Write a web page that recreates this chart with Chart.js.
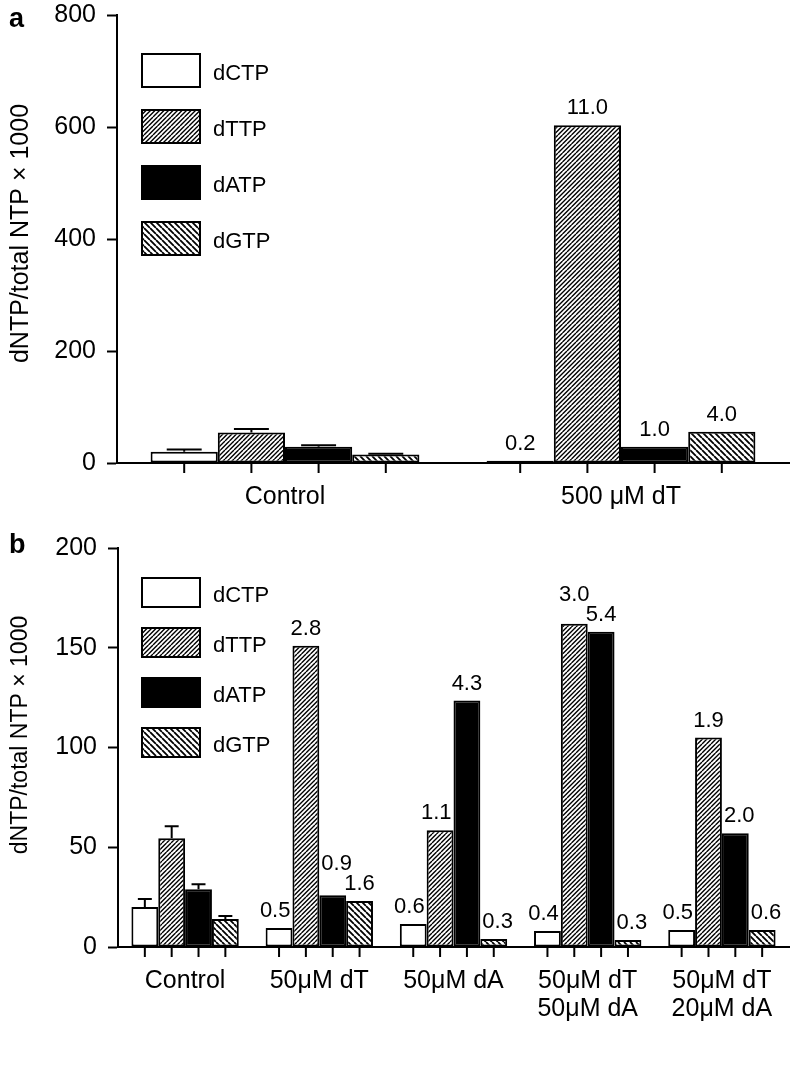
<!DOCTYPE html>
<html>
<head>
<meta charset="utf-8">
<script src="https://cdn.jsdelivr.net/npm/chart.js@4.4.1/dist/chart.umd.min.js"></script>
<style>
  body { margin: 0; background: #fff; }
  #wrap { position: relative; width: 796px; height: 1085px; }
  canvas { position: absolute; left: 0; }
</style>
</head>
<body>
<div id="wrap">
  <canvas id="chartA" width="796" height="510" style="top:0"></canvas>
  <canvas id="chartB" width="796" height="575" style="top:510px"></canvas>
</div>
<script>
  Chart.defaults.font.family = '"Liberation Sans", Arial, Helvetica, sans-serif';
  Chart.defaults.color = '#000';

  const seriesNames = ['dCTP', 'dTTP', 'dATP', 'dGTP'];

  // panel a
  const categoriesA = ['Control', '500 μM dT'];
  const yTicksA = [0, 200, 400, 600, 800];
  const dctpA = [20, 4];
  const dttpA = [54.5, 603];
  const datpA = [29, 29];
  const dgtpA = [15, 56];
  const dctpRatioA = ['', '0.2'];
  const dttpRatioA = ['', '11.0'];
  const datpRatioA = ['', '1.0'];
  const dgtpRatioA = ['', '4.0'];

  // panel b
  const categoriesB = ['Control', '50μM dT', '50μM dA', ['50μM dT', '50μM dA'], ['50μM dT', '20μM dA']];
  const yTicksB = [0, 50, 100, 150, 200];
  const dctpB = [20, 9.5, 11.5, 8, 8.5];
  const dttpB = [54.5, 151, 58.5, 162, 105];
  const datpB = [29, 26, 123.5, 158, 57];
  const dgtpB = [14, 23, 4, 3.5, 8.5];
  const dctpRatioB = ['', '0.5', '0.6', '0.4', '0.5'];
  const dttpRatioB = ['', '2.8', '1.1', '3.0', '1.9'];
  const datpRatioB = ['', '0.9', '4.3', '5.4', '2.0'];
  const dgtpRatioB = ['', '1.6', '0.3', '0.3', '0.6'];

  // upward error on the control bars (dCTP, dTTP, dATP, dGTP)
  const controlErr = [4, 6, 2.5, 1.5];

  function hatch(tile, lines, lw, dir) {
    const c = document.createElement('canvas');
    c.width = tile; c.height = tile;
    const g = c.getContext('2d');
    g.fillStyle = '#fff';
    g.fillRect(0, 0, tile, tile);
    g.strokeStyle = '#000';
    g.lineWidth = lw;
    const s = tile / lines;
    g.beginPath();
    for (let k = -lines - 1; k <= 2 * lines + 1; k++) {
      const c0 = k * s;
      g.moveTo(c0, 0);
      g.lineTo(dir > 0 ? c0 - tile : c0 + tile, tile);
    }
    g.stroke();
    return g.createPattern(c, 'repeat');
  }

  const fills = ['#fff', hatch(9, 2, 1.4, 1), '#000', hatch(6, 1, 1.8, -1)];
  const fontFam = Chart.defaults.font.family;

  const decor = {
    id: 'decor',
    afterDraw(chart, args, o) {
      const ctx = chart.ctx, area = chart.chartArea, ys = chart.scales.y;
      ctx.save();
      ctx.strokeStyle = '#000';
      ctx.lineWidth = 2;

      // a tick under every bar, error bars on control
      chart.data.datasets.forEach((ds, di) => {
        chart.getDatasetMeta(di).data.forEach((bar, i) => {
          ctx.beginPath();
          ctx.moveTo(bar.x, area.bottom);
          ctx.lineTo(bar.x, area.bottom + 10);
          ctx.stroke();
          const e = ds.errors[i];
          if (e) {
            const top = ys.getPixelForValue(ds.data[i] + e);
            const cap = bar.width * 0.26;
            ctx.beginPath();
            ctx.moveTo(bar.x, bar.y);
            ctx.lineTo(bar.x, top);
            ctx.moveTo(bar.x - cap, top);
            ctx.lineTo(bar.x + cap, top);
            ctx.stroke();
          }
        });
      });

      // ratio labels above bars, nudged away from neighbours
      ctx.font = o.labelSize + 'px ' + fontFam;
      const capH = o.labelSize * 0.72;
      const items = [];
      chart.data.datasets.forEach((ds, di) => {
        chart.getDatasetMeta(di).data.forEach((bar, i) => {
          const t = ds.ratios[i];
          if (!t) return;
          items.push({ t, di, i, x: bar.x, y: bar.y - o.labelGap, w: ctx.measureText(t).width });
        });
      });
      items.forEach(it => {
        [-1, 1].forEach(side => {
          const nm = chart.data.datasets[it.di + side] && chart.getDatasetMeta(it.di + side);
          if (!nm) return;
          const nb = nm.data[it.i];
          if (nb.y >= it.y) return;
          if (side < 0) {
            const edge = nb.x + nb.width / 2 + 2;
            if (it.x - it.w / 2 < edge) it.x = edge + it.w / 2;
          } else {
            const edge = nb.x - nb.width / 2 - 2;
            if (it.x + it.w / 2 > edge) it.x = edge - it.w / 2;
          }
        });
      });
      items.sort((a, b) => a.i - b.i || a.di - b.di);
      for (let k = 0; k < items.length - 1; k++) {
        const a = items[k], b = items[k + 1];
        if (a.i !== b.i || b.di !== a.di + 1) continue;
        const hx = Math.abs(a.x - b.x) < (a.w + b.w) / 2 + 2;
        const hy = Math.abs(a.y - b.y) < capH + 3;
        if (hx && hy) {
          if (a.y <= b.y) a.y = b.y - capH - 4; else b.y = a.y - capH - 4;
        }
      }
      ctx.fillStyle = '#000';
      ctx.textAlign = 'center';
      ctx.textBaseline = 'alphabetic';
      items.forEach(it => ctx.fillText(it.t, it.x, it.y));

      // legend
      ctx.font = o.legendSize + 'px ' + fontFam;
      ctx.textAlign = 'left';
      ctx.textBaseline = 'middle';
      chart.data.datasets.forEach((ds, i) => {
        const top = area.top + o.legendTop + i * o.legendStep;
        ctx.fillStyle = ds.backgroundColor;
        ctx.fillRect(o.boxX, top, o.boxW, o.boxH);
        ctx.strokeRect(o.boxX, top, o.boxW, o.boxH);
        ctx.fillStyle = '#000';
        ctx.fillText(ds.label, o.textX, top + o.boxH / 2 + 3);
      });

      // y axis title
      ctx.save();
      ctx.translate(o.titleX, (area.top + area.bottom) / 2 + o.titleShift);
      ctx.rotate(-Math.PI / 2);
      ctx.font = o.titleSize + 'px ' + fontFam;
      ctx.textAlign = 'center';
      ctx.textBaseline = 'middle';
      ctx.fillText(o.title, 0, 0);
      ctx.restore();

      // panel letter
      ctx.font = 'bold ' + o.panelSize + 'px ' + fontFam;
      ctx.textAlign = 'left';
      ctx.textBaseline = 'alphabetic';
      ctx.fillText(o.panel, 9, o.panelY);
      ctx.restore();
    }
  };

  function makeChart(id, categories, values, ratios, yTicks, st) {
    return new Chart(document.getElementById(id), {
      type: 'bar',
      data: {
        labels: categories,
        datasets: seriesNames.map((name, i) => ({
          label: name,
          data: values[i],
          ratios: ratios[i],
          errors: categories.map((c, k) => k === 0 ? controlErr[i] : null),
          backgroundColor: fills[i],
          borderColor: '#000',
          borderWidth: 2,
          borderSkipped: false,
          categoryPercentage: 0.8,
          barPercentage: 1
        }))
      },
      options: {
        responsive: false,
        animation: false,
        devicePixelRatio: 1,
        layout: { padding: { top: st.top, right: 7, left: 0, bottom: 0 } },
        plugins: { legend: { display: false }, tooltip: { enabled: false }, decor: st },
        scales: {
          x: {
            grid: { display: false, drawTicks: false },
            border: { display: true, color: '#000', width: 2 },
            ticks: { font: { size: 25, lineHeight: 1.13 }, padding: 20, maxRotation: 0, autoSkip: false },
            afterFit: s => { s.height = st.xHeight; }
          },
          y: {
            min: yTicks[0],
            max: yTicks[yTicks.length - 1],
            afterBuildTicks: s => { s.ticks = yTicks.map(v => ({ value: v })); },
            grid: { drawOnChartArea: false, drawTicks: true, tickLength: 10, tickWidth: 2, tickColor: '#000' },
            border: { color: '#000', width: 2 },
            ticks: { font: { size: 25 }, padding: 11 },
            afterFit: s => { s.width = st.yWidth; s.paddingTop = 0; s.paddingBottom = 0; }
          }
        }
      },
      plugins: [decor]
    });
  }

  const title = 'dNTP/total NTP × 1000';

  makeChart('chartA', categoriesA, [dctpA, dttpA, datpA, dgtpA],
    [dctpRatioA, dttpRatioA, datpRatioA, dgtpRatioA], yTicksA,
    { top: 15, xHeight: 47, yWidth: 117, legendTop: 39, legendStep: 56, boxH: 33, boxX: 142, boxW: 58,
      textX: 213, legendSize: 22, labelSize: 22, labelGap: 11, title: title, titleSize: 25, titleX: 21,
      titleShift: -5.5, panel: 'a', panelSize: 27, panelY: 27 });

  makeChart('chartB', categoriesB, [dctpB, dttpB, datpB, dgtpB],
    [dctpRatioB, dttpRatioB, datpRatioB, dgtpRatioB], yTicksB,
    { top: 38, xHeight: 138, yWidth: 118, legendTop: 30, legendStep: 50, boxH: 29, boxX: 142, boxW: 58,
      textX: 213, legendSize: 22, labelSize: 22, labelGap: 11, title: title, titleSize: 23, titleX: 21,
      titleShift: -12.5, panel: 'b', panelSize: 27, panelY: 43 });
</script>
</body>
</html>
